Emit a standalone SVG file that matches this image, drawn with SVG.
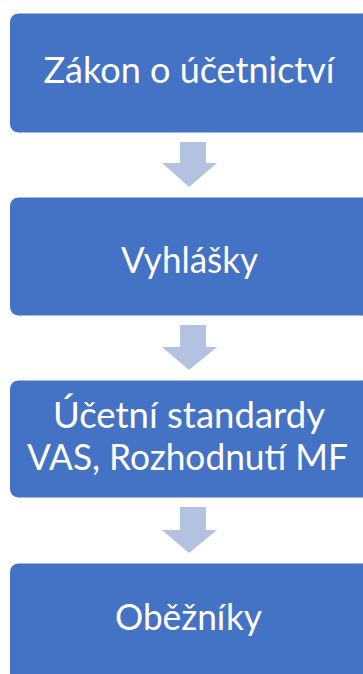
<svg xmlns="http://www.w3.org/2000/svg" width="363" height="674" viewBox="0 0 363 674">
<style>
.box{fill:#4472C4;stroke:#ffffff;stroke-width:1}
.arr{fill:#B4C2E1}
.t{font-family:Lato,"Open Sans","Liberation Sans",sans-serif;font-size:37px;fill:#ffffff;text-anchor:middle}
</style>
<rect width="363" height="674" fill="#ffffff"/>
<g id="connectors">
<path class="arr" d="M180 142H206V163H217L189 187L162 163H180Z"/>
<path class="arr" d="M180 325H206V347H217L189 370L162 347H180Z"/>
<path class="arr" d="M180 507H206V530H217L189 553L162 530H180Z"/>
</g>
<g id="node1">
<rect class="box" x="9.5" y="13" width="362" height="120" rx="9"/>
<text class="t" x="189" y="83" textLength="291" lengthAdjust="spacingAndGlyphs">Zákon o účetnictví</text>
</g>
<g id="node2">
<rect class="box" x="9.5" y="197" width="362" height="119" rx="9"/>
<text class="t" x="189.5" y="273" textLength="137" lengthAdjust="spacingAndGlyphs">Vyhlášky</text>
</g>
<g id="node3">
<rect class="box" x="9.5" y="380" width="362" height="118" rx="9"/>
<text class="t" x="189" y="428" textLength="272" lengthAdjust="spacingAndGlyphs">Účetní standardy</text>
<text class="t" x="187.5" y="470" textLength="321" lengthAdjust="spacingAndGlyphs">VAS, Rozhodnutí MF</text>
</g>
<g id="node4">
<rect class="box" x="9.5" y="563" width="362" height="125" rx="9"/>
<text class="t" x="188.5" y="630" textLength="147" lengthAdjust="spacingAndGlyphs">Oběžníky</text>
</g>
</svg>
